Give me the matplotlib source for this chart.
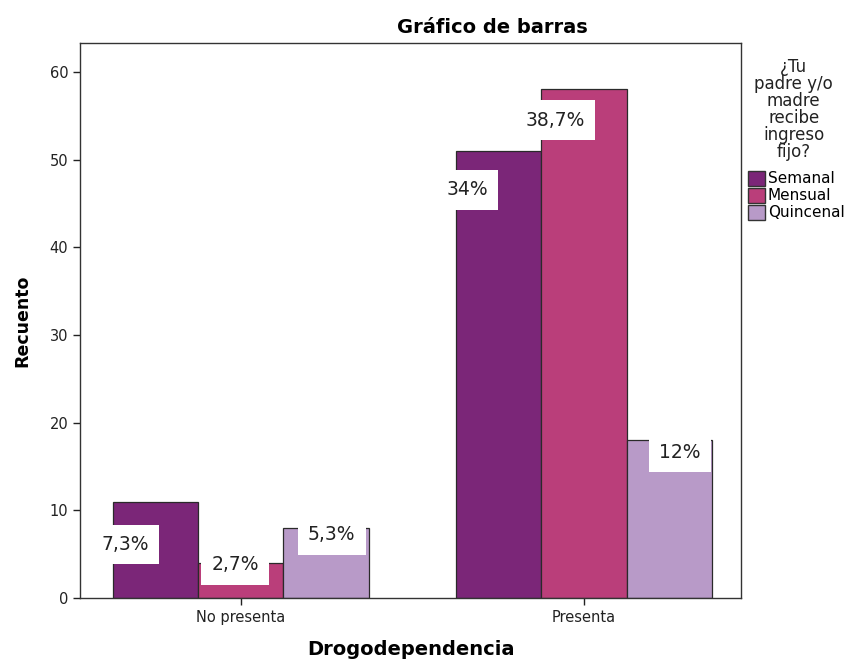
import numpy as np
import matplotlib.pyplot as plt
from matplotlib.patches import Patch

plt.rcParams['font.family'] = ['DejaVu Sans']

# Data
categories = ['No presenta', 'Presenta']
series = ['Semanal', 'Mensual', 'Quincenal']
counts = {
    'Semanal': [11, 51],
    'Mensual': [4, 58],
    'Quincenal': [8, 18],
}
pct_labels = {
    'Semanal': ['7,3%', '34%'],
    'Mensual': ['2,7%', '38,7%'],
    'Quincenal': ['5,3%', '12%'],
}

colors = {'Semanal': '#7b2678', 'Mensual': '#ba3e7a', 'Quincenal': '#b89ac8'}
# label offsets (points) from the bar top centre, as placed in the original
label_offsets = {
    'Semanal': [(-22, -31), (-23, -28)],
    'Mensual': [(-4, -1.5), (-21, -22)],
    'Quincenal': [(4, -5), (8, -9)],
}

fig = plt.figure(figsize=(8.47, 6.59), dpi=100)
ax = fig.add_axes([0.0945, 0.0926, 0.7805, 0.8421])

x = np.arange(len(categories))
width = 0.248
for i, s in enumerate(series):
    xs = x + (i - 1) * width
    ax.bar(xs, counts[s], width=width, color=colors[s], edgecolor='#2a2a2a',
           linewidth=0.9, zorder=2)

# percentage labels with white boxes drawn on top of bars
for i, s in enumerate(series):
    xs = x + (i - 1) * width
    for j in range(len(categories)):
        dx, dy = label_offsets[s][j]
        ax.annotate(pct_labels[s][j], xy=(xs[j], counts[s][j]), xytext=(dx, dy),
                    textcoords='offset points', ha='center', va='center',
                    fontsize=13.5, color='#222222', zorder=5,
                    bbox=dict(boxstyle='square,pad=0.55', fc='white', ec='none'))

ax.set_xlim(-0.469, 1.458)
ax.set_ylim(0, 63.3)
ax.set_xticks(x)
ax.set_xticklabels(categories, fontsize=10.5)
ax.set_yticks(np.arange(0, 61, 10))
ax.tick_params(axis='both', labelsize=10.5, colors='#222222', length=5, width=1)
for sp in ax.spines.values():
    sp.set_color('#333333')
    sp.set_linewidth(1)

ax.set_ylabel('Recuento', fontsize=12.5, fontweight='bold', labelpad=13)
ax.set_xlabel('Drogodependencia', fontsize=14, fontweight='bold', labelpad=11)
# the title sits centred over the plot + legend block, not the axes alone
fig.text(0.581, 0.958, 'Gráfico de barras', ha='center', va='center',
         fontsize=14, fontweight='bold')

# legend outside on the right
fig.text(0.937, 0.912, '¿Tu\npadre y/o\nmadre\nrecibe\ningreso\nfijo?', ha='center', va='top',
         fontsize=12, color='#222222', linespacing=0.93)
handles = [Patch(facecolor=colors[s], edgecolor='#333333', label=s) for s in series]
fig.legend(handles=handles, loc='upper left', bbox_to_anchor=(0.876, 0.75),
           frameon=False, fontsize=11, handlelength=1.1, handleheight=1.1,
           handletextpad=0.2, labelspacing=0.1, borderaxespad=0)

fig.savefig('out.png', dpi=100)
